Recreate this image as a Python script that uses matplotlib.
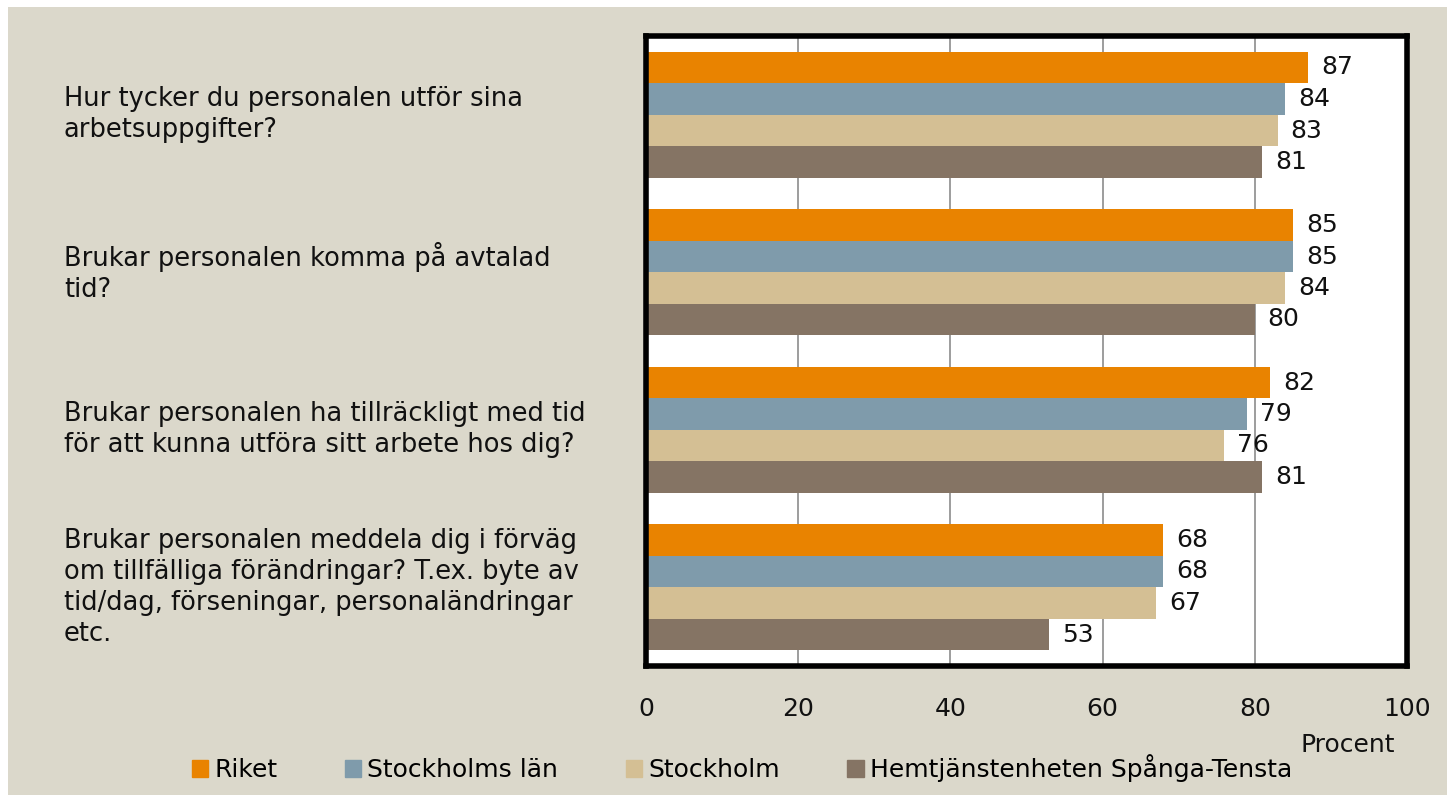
import matplotlib.pyplot as plt
import matplotlib.patches as mpatches
import numpy as np

questions = [
    "Hur tycker du personalen utför sina\narbetsuppgifter?",
    "Brukar personalen komma på avtalad\ntid?",
    "Brukar personalen ha tillräckligt med tid\nför att kunna utföra sitt arbete hos dig?",
    "Brukar personalen meddela dig i förväg\nom tillfälliga förändringar? T.ex. byte av\ntid/dag, förseningar, personaländringar\netc.",
]
series = ["Riket", "Stockholms län", "Stockholm", "Hemtjänstenheten Spånga-Tensta"]
riket = [87, 85, 82, 68]
stockholms_lan = [84, 85, 79, 68]
stockholm = [83, 84, 76, 67]
hemtjanst = [81, 80, 81, 53]
colors = ["#e98300", "#7f9bab", "#d4bf94", "#857464"]

plt.rcParams['font.family'] = ['DejaVu Sans']

fig = plt.figure(figsize=(14.51, 8.02), dpi=100, facecolor='white')
# beige panel behind everything
fig.patches.append(mpatches.Rectangle((8 / 1451, 7 / 802), 1439 / 1451, 788 / 802,
                                      transform=fig.transFigure, facecolor='#dbd8cb',
                                      edgecolor='none', zorder=-10))

ax = fig.add_axes([646 / 1451, 1 - 666 / 802, 761 / 1451, 630 / 802])
ax.set_facecolor('white')

values = [riket, stockholms_lan, stockholm, hemtjanst]
h = 0.2
y = np.arange(len(questions))
for i, (name, vals) in enumerate(zip(series, values)):
    pos = y - 0.3 + i * h
    bars = ax.barh(pos, vals, height=h, color=colors[i], label=name, zorder=2)
    for b, v in zip(bars, vals):
        ax.text(v + 1.7, b.get_y() + h / 2, str(v), va='center', ha='left',
                fontsize=18, color='#111111')

ax.set_xlim(0, 100)
ax.set_ylim(3.5, -0.5)
ax.set_xticks(range(0, 101, 20))
ax.tick_params(axis='x', length=0, pad=22, labelsize=18, colors='#111111')
ax.set_yticks([])
ax.xaxis.grid(True, color='#8c8c8c', linewidth=1.2, zorder=1)
for s in ax.spines.values():
    s.set_linewidth(4)
    s.set_color('black')

for q, yy in zip(questions, y):
    ax.text(-0.765, yy, q, transform=ax.get_yaxis_transform(), ha='left', va='center',
            fontsize=18.5, color='#111111', linespacing=1.25)

fig.text(1395 / 1451, 1 - 745 / 802, "Procent", ha='right', va='center', fontsize=18, color='#111111')

handles = [mpatches.Patch(color=c) for c in colors]
fig.legend(handles, series, loc='center', bbox_to_anchor=(742 / 1451, 1 - 768 / 802),
           ncol=4, frameon=False, fontsize=18, handlelength=0.65, handleheight=0.65,
           handletextpad=0.25, columnspacing=2.7)

fig.savefig('out.png', dpi=100, facecolor='white')
